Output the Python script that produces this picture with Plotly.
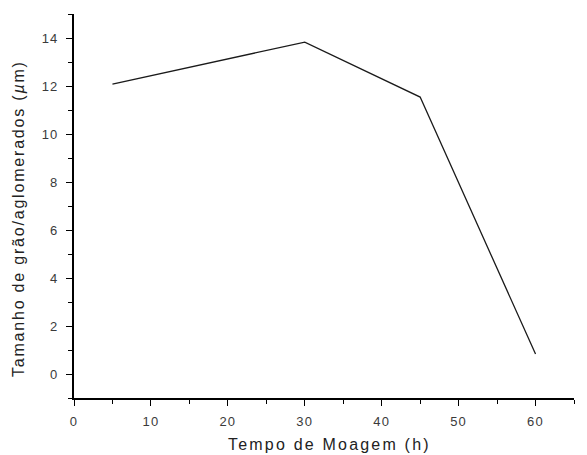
import plotly.graph_objects as go

tempo = [5, 30, 45, 60]
tamanho = [12.08, 13.83, 11.54, 0.83]
x_ticks = [0, 10, 20, 30, 40, 50, 60]
y_ticks = [0, 2, 4, 6, 8, 10, 12, 14]
x_title = "Tempo de Moagem (h)"
y_title = "Tamanho de grão/aglomerados (<i>µ</i>m)"


def spaced(t, ls):
    return '<span style="letter-spacing:%spx">%s</span>' % (ls, t)


fig = go.Figure()
fig.add_trace(go.Scatter(x=tempo, y=tamanho, mode="lines",
                         line=dict(color="#1a1a1a", width=1.3), showlegend=False))

font = "Liberation Sans, Arial, sans-serif"
W, H = 579, 447
L, R, T, B = 66, 12.5, 6, 57
fig.update_layout(
    width=W, height=H,
    margin=dict(l=L, r=R, t=T, b=B),
    paper_bgcolor="white", plot_bgcolor="white",
    font=dict(family=font, color="#222222"),
)
axis_common = dict(
    showgrid=False, zeroline=False,
    showline=True, linecolor="black", linewidth=1.8,
    ticks="outside", ticklen=6, tickwidth=1.3, tickcolor="black",
    tickfont=dict(size=13, color="#3a3a3a"),
)
fig.update_xaxes(
    range=[0, 65], tickvals=x_ticks, ticktext=[spaced(v, 1.2) for v in x_ticks],
    minor=dict(ticks="outside", ticklen=4, tickwidth=1.2, tickcolor="black", dtick=5, tick0=0),
    ticklabelstandoff=4,
    **axis_common,
)
fig.update_yaxes(
    range=[-1, 15], tickvals=y_ticks, ticktext=[spaced(v, 1.2) for v in y_ticks],
    minor=dict(ticks="outside", ticklen=4, tickwidth=1.2, tickcolor="black", dtick=1, tick0=0),
    ticklabelstandoff=5,
    **axis_common,
)

pw = W - L - R
ph = H - T - B
fig.add_annotation(
    text=spaced(x_title, 2.2), xref="paper", yref="paper",
    x=(322 - L) / pw, y=(H - B - 436) / ph, xanchor="center", yanchor="middle",
    showarrow=False, font=dict(size=16, color="#222222"),
)
fig.add_annotation(
    text=spaced(y_title, 1.8), xref="paper", yref="paper", textangle=-90,
    x=(10 - L) / pw, y=(H - B - 211) / ph, xanchor="center", yanchor="middle",
    showarrow=False, font=dict(size=16, color="#222222"),
)
fig.write_html("out.html")
